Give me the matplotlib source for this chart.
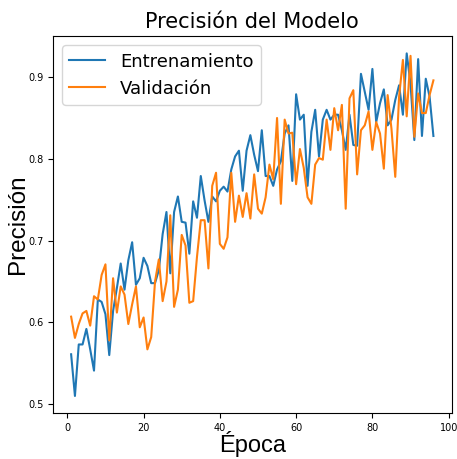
#Import Declarations
import matplotlib
matplotlib.use("Agg")
import matplotlib.pyplot as plt
import numpy as np

#Datos
epocas = np.arange(1, 97)
entrenamiento = [
    0.561, 0.510, 0.573, 0.573, 0.592, 0.567, 0.541, 0.628, 0.625, 0.610,
    0.560, 0.614, 0.642, 0.672, 0.640, 0.676, 0.698, 0.646, 0.654, 0.679,
    0.669, 0.648, 0.648, 0.664, 0.708, 0.735, 0.660, 0.735, 0.754, 0.723,
    0.722, 0.684, 0.748, 0.728, 0.779, 0.749, 0.723, 0.754, 0.748, 0.761,
    0.766, 0.760, 0.787, 0.803, 0.810, 0.761, 0.810, 0.829, 0.805, 0.785,
    0.835, 0.779, 0.779, 0.767, 0.787, 0.797, 0.831, 0.841, 0.773, 0.879,
    0.848, 0.854, 0.767, 0.833, 0.860, 0.803, 0.848, 0.860, 0.848, 0.854,
    0.854, 0.835, 0.811, 0.854, 0.817, 0.816, 0.904, 0.882, 0.860, 0.910,
    0.845, 0.868, 0.885, 0.841, 0.848, 0.872, 0.890, 0.854, 0.929, 0.892,
    0.823, 0.922, 0.828, 0.898, 0.876, 0.828,
]
validacion = [
    0.607, 0.581, 0.598, 0.611, 0.614, 0.596, 0.632, 0.628, 0.658, 0.671,
    0.578, 0.654, 0.612, 0.644, 0.634, 0.598, 0.622, 0.644, 0.594, 0.606,
    0.567, 0.582, 0.650, 0.677, 0.626, 0.650, 0.731, 0.619, 0.640, 0.707,
    0.694, 0.624, 0.626, 0.680, 0.725, 0.725, 0.666, 0.767, 0.783, 0.696,
    0.690, 0.704, 0.783, 0.723, 0.755, 0.729, 0.758, 0.727, 0.781, 0.739,
    0.733, 0.753, 0.793, 0.775, 0.850, 0.745, 0.848, 0.831, 0.832, 0.769,
    0.812, 0.789, 0.753, 0.745, 0.793, 0.801, 0.799, 0.848, 0.811, 0.862,
    0.835, 0.866, 0.739, 0.874, 0.884, 0.781, 0.835, 0.841, 0.858, 0.811,
    0.845, 0.831, 0.788, 0.878, 0.837, 0.778, 0.876, 0.921, 0.852, 0.926,
    0.827, 0.880, 0.856, 0.856, 0.878, 0.896,
]

#Figura
fig = plt.figure(figsize=(4.57, 4.59), dpi=100)
ax = fig.add_axes([0.116, 0.1, 0.872, 0.821])

ax.plot(epocas, entrenamiento, label="Entrenamiento", linewidth=1.5)
ax.plot(epocas, validacion, label="Validación", linewidth=1.5)

ax.set_title("Precisión del Modelo", fontsize=15)
ax.set_xlabel("Época", fontsize=17, family="Liberation Sans", labelpad=-1)
ax.set_ylabel("Precisión", fontsize=17.5, family="Liberation Sans", labelpad=-1)
ax.set_xticks([0, 20, 40, 60, 80, 100])
ax.tick_params(labelsize=7)
ax.legend(loc="upper left", fontsize=13)

fig.savefig("out.png", dpi=100)
